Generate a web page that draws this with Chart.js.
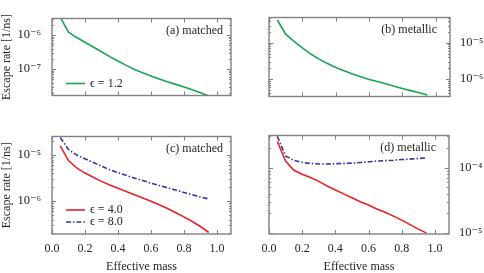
<!DOCTYPE html>
<html>
<head>
<meta charset="utf-8">
<script src="https://cdn.jsdelivr.net/npm/chart.js"></script>
<style>
  body { margin:0; padding:0; background:#fff; width:484px; height:273px; overflow:hidden; position:relative }
  canvas { position:absolute; display:block }
</style>
</head>
<body>
<canvas id="pa" width="242" height="114" style="left:0;top:0"></canvas>
<canvas id="pb" width="242" height="114" style="left:242px;top:0"></canvas>
<canvas id="pc" width="242" height="155" style="left:0;top:118px"></canvas>
<canvas id="pd" width="242" height="155" style="left:242px;top:118px"></canvas>
<script>
// effective mass grid shared by all panels
const mass = [0.05, 0.10, 0.15, 0.20, 0.25, 0.30, 0.35, 0.40, 0.45, 0.50,
              0.55, 0.60, 0.65, 0.70, 0.75, 0.80, 0.85, 0.90, 0.95];

// (a) matched, eps = 1.2
const matchedEps12 = [3.39e-6, 1.23e-6, 8.51e-7, 6.17e-7, 4.47e-7, 3.24e-7, 2.34e-7, 1.74e-7, 1.29e-7, 9.77e-8,
                      7.76e-8, 6.31e-8, 5.13e-8, 4.27e-8, 3.55e-8, 2.95e-8, 2.45e-8, 2.00e-8, 1.62e-8];
// (b) metallic, eps = 1.2
const metallicEps12 = [4.27e-5, 1.74e-5, 1.10e-5, 7.24e-6, 4.90e-6, 3.55e-6, 2.69e-6, 2.09e-6, 1.70e-6, 1.38e-6,
                       1.15e-6, 9.77e-7, 8.51e-7, 7.41e-7, 6.31e-7, 5.50e-7, 4.79e-7, 4.17e-7, 3.63e-7];
// (c) matched, eps = 4.0 / 8.0
const matchedEps4 = [1.58e-5, 7.59e-6, 5.25e-6, 4.07e-6, 3.31e-6, 2.69e-6, 2.24e-6, 1.91e-6, 1.62e-6, 1.38e-6,
                     1.17e-6, 1.00e-6, 8.32e-7, 6.92e-7, 5.62e-7, 4.57e-7, 3.63e-7, 2.82e-7, 2.09e-7];
const matchedEps8 = [2.40e-5, 1.32e-5, 1.00e-5, 8.32e-6, 6.92e-6, 5.75e-6, 4.79e-6, 4.17e-6, 3.63e-6, 3.16e-6,
                     2.82e-6, 2.45e-6, 2.19e-6, 1.95e-6, 1.74e-6, 1.55e-6, 1.38e-6, 1.23e-6, 1.12e-6];
// (d) metallic, eps = 4.0 / 8.0
const metallicEps4 = [2.51e-4, 1.26e-4, 9.12e-5, 7.94e-5, 7.08e-5, 6.17e-5, 5.25e-5, 4.57e-5, 3.98e-5, 3.47e-5,
                      3.02e-5, 2.69e-5, 2.34e-5, 2.09e-5, 1.82e-5, 1.58e-5, 1.35e-5, 1.15e-5, 1.00e-5];
const metallicEps8 = [3.02e-4, 1.51e-4, 1.29e-4, 1.20e-4, 1.16e-4, 1.135e-4, 1.135e-4, 1.15e-4, 1.16e-4, 1.175e-4,
                      1.20e-4, 1.23e-4, 1.26e-4, 1.28e-4, 1.30e-4, 1.33e-4, 1.35e-4, 1.38e-4, 1.41e-4];

// tick labels
const xTicks = [0.0, 0.2, 0.4, 0.6, 0.8, 1.0];
const aYTicks = [1e-7, 1e-6];
const bYTicks = [1e-6, 1e-5];
const cYTicks = [1e-6, 1e-5];
const dYTicks = [1e-5, 1e-4];

const FONT = 'Liberation Serif, DejaVu Serif, serif';
const TEXT = '#262626';
const FRAME = '#808080';
const GREEN = '#1aa64f', RED = '#ec2027', BLUE = '#3434a6';
const DASHDOT = [5, 2, 1.5, 2];

const SUP = {'-': '\u207B', '0': '\u2070', '1': '\u00B9', '2': '\u00B2', '3': '\u00B3', '4': '\u2074',
             '5': '\u2075', '6': '\u2076', '7': '\u2077', '8': '\u2078', '9': '\u2079'};
function powLabel(v) {
  const e = Math.round(Math.log10(v));
  return '10' + String(e).split('').map(c => SUP[c]).join('');
}

// frame, inward ticks, panel tag and legend
const deco = {
  id: 'deco',
  afterDraw(chart, args, o) {
    const { ctx, chartArea: a, scales: { x, y } } = chart;
    ctx.save();
    ctx.strokeStyle = FRAME;
    ctx.lineWidth = 1;
    ctx.beginPath();
    for (const v of xTicks) {
      const px = Math.round(x.getPixelForValue(v)) + 0.5;
      ctx.moveTo(px, a.bottom); ctx.lineTo(px, a.bottom - 4);
      ctx.moveTo(px, a.top); ctx.lineTo(px, a.top + 4);
    }
    const e0 = Math.floor(Math.log10(y.min)), e1 = Math.ceil(Math.log10(y.max));
    for (let e = e0; e <= e1; e++) {
      for (let m = 1; m <= 9; m++) {
        const v = m * Math.pow(10, e);
        if (v < y.min || v > y.max) continue;
        const py = Math.round(y.getPixelForValue(v)) + 0.5;
        const len = m === 1 ? 4 : 2;
        ctx.moveTo(a.left, py); ctx.lineTo(a.left + len, py);
        ctx.moveTo(a.right, py); ctx.lineTo(a.right - len, py);
      }
    }
    ctx.stroke();
    ctx.lineWidth = 1.4;
    ctx.strokeRect(a.left, a.top, a.right - a.left, a.bottom - a.top);

    ctx.fillStyle = TEXT;
    ctx.font = '12px ' + FONT;
    ctx.textAlign = 'right';
    ctx.textBaseline = 'middle';
    ctx.fillText(o.tag, a.right - o.tagRight, a.top + 12);

    if (o.legend) {
      const ds = chart.data.datasets;
      ds.forEach((d, i) => {
        const yy = a.bottom - 12 * (ds.length - i);
        ctx.strokeStyle = d.borderColor;
        ctx.lineWidth = d.borderWidth;
        ctx.setLineDash(d.borderDash || []);
        ctx.beginPath();
        ctx.moveTo(a.left + 14, yy); ctx.lineTo(a.left + 33, yy);
        ctx.stroke();
        ctx.setLineDash([]);
        ctx.textAlign = 'left';
        ctx.fillText(d.label, a.left + 38, yy);
      });
    }
    ctx.restore();
  }
};

function panel(id, p) {
  return new Chart(document.getElementById(id), {
    type: 'line',
    data: {
      datasets: p.series.map(s => ({
        label: s.label,
        data: mass.map((m, i) => ({ x: m, y: s.values[i] })),
        borderColor: s.color,
        borderWidth: 1.6,
        borderDash: s.dash || [],
        pointRadius: 0,
        tension: 0,
        fill: false,
        clip: 0
      }))
    },
    options: {
      responsive: false,
      animation: false,
      devicePixelRatio: 1,
      layout: { padding: p.pad },
      plugins: {
        legend: { display: false },
        tooltip: { enabled: false },
        deco: { tag: p.tag, tagRight: p.tagRight, legend: p.legend }
      },
      scales: {
        x: {
          type: 'linear', min: 0, max: 1.085,
          grid: { display: false, drawTicks: false },
          border: { display: false },
          afterBuildTicks: s => { s.ticks = xTicks.map(v => ({ value: v })); },
          afterFit: s => { s.height = p.xh; },
          ticks: { display: p.bottom, padding: 8, color: TEXT, font: { family: FONT, size: 12 },
                   maxRotation: 0, autoSkip: false, callback: v => Number(v).toFixed(1) },
          title: { display: p.bottom, text: 'Effective mass', color: TEXT, padding: { top: 0, bottom: -1 },
                   font: { family: FONT, size: 12 } }
        },
        y: {
          type: 'logarithmic', position: p.right ? 'right' : 'left',
          min: p.ymin, max: p.ymax,
          grid: { display: false, drawTicks: false },
          border: { display: false },
          afterBuildTicks: s => { s.ticks = p.yTicks.map(v => ({ value: v })); },
          afterFit: s => { s.width = p.yw; },
          ticks: { padding: p.right ? 10 : 11, color: TEXT, font: { family: FONT, size: 12.5 },
                   autoSkip: false, callback: v => powLabel(v) },
          title: { display: !p.right, text: 'Escape rate [1/ns]', color: TEXT, padding: { top: 0, bottom: 0 },
                   font: { family: FONT, size: 12 } }
        }
      }
    },
    plugins: [deco]
  });
}

panel('pa', {
  series: [{ label: '\u03F5 = 1.2', values: matchedEps12, color: GREEN }],
  ymin: 1.67e-8, ymax: 3.1e-6, yTicks: aYTicks,
  pad: { left: 0, right: 11, top: 1, bottom: 0 }, yw: 52, xh: 2,
  bottom: false, right: false, tag: '(a) matched', tagRight: 8, legend: true
});
panel('pb', {
  series: [{ label: '\u03F5 = 1.2', values: metallicEps12, color: GREEN }],
  ymin: 3.3e-7, ymax: 5.0e-5, yTicks: bYTicks,
  pad: { left: 27, right: 0, top: 1, bottom: 0 }, yw: 34, xh: 2,
  bottom: false, right: true, tag: '(b) metallic', tagRight: 13, legend: false
});
panel('pc', {
  series: [
    { label: '\u03F5 = 4.0', values: matchedEps4, color: RED },
    { label: '\u03F5 = 8.0', values: matchedEps8, color: BLUE, dash: DASHDOT }
  ],
  ymin: 1.94e-7, ymax: 2.53e-5, yTicks: cYTicks,
  pad: { left: 0, right: 11, top: 6, bottom: 0 }, yw: 52, xh: 39,
  bottom: true, right: false, tag: '(c) matched', tagRight: 8, legend: true
});
panel('pd', {
  series: [
    { label: '\u03F5 = 4.0', values: metallicEps4, color: RED },
    { label: '\u03F5 = 8.0', values: metallicEps8, color: BLUE, dash: DASHDOT }
  ],
  ymin: 9.7e-6, ymax: 3.1e-4, yTicks: dYTicks,
  pad: { left: 27, right: 0, top: 6, bottom: 0 }, yw: 35, xh: 39,
  bottom: true, right: true, tag: '(d) metallic', tagRight: 13, legend: false
});
</script>
</body>
</html>
